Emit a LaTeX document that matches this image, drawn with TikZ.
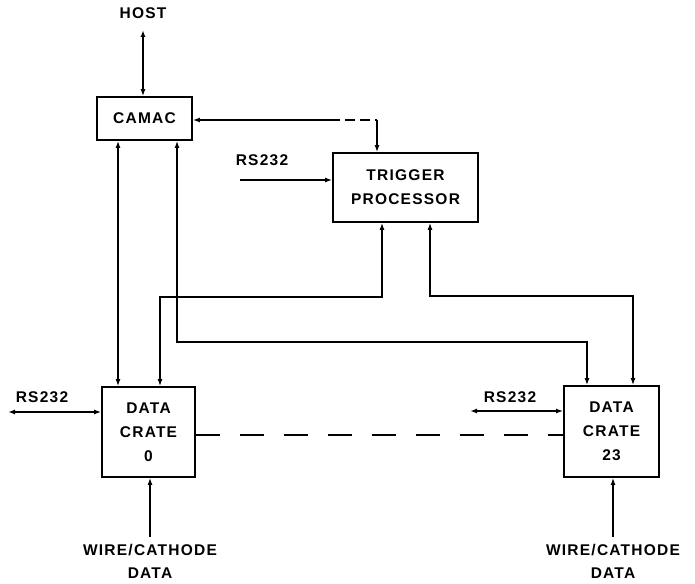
\documentclass[tikz,border=0pt]{standalone}
\usepackage{fontspec}
\setmainfont{Liberation Sans}[LetterSpace=8]
\usetikzlibrary{arrows.meta}
\begin{document}
\begin{tikzpicture}[x=1pt,y=-1pt,
  line width=1.6pt,
  box/.style={draw,line width=1.8pt,rectangle,inner sep=0pt,align=center,font=\bfseries\fontsize{15.5}{24}\selectfont},
  lbl/.style={font=\bfseries\fontsize{15.5}{23}\selectfont,align=center,inner sep=0pt},
  tip/.style={-{Latex[length=7pt,width=5pt]}},
  bitip/.style={{Latex[length=7pt,width=5pt]}-{Latex[length=7pt,width=5pt]}},
  rtip/.style={{Latex[length=7pt,width=5pt]}-},
  ldash/.style={dash pattern=on 24pt off 20pt}]
\useasboundingbox (0,0) rectangle (695,583);
% boxes
\node[box,minimum width=95pt,minimum height=43pt] (camac) at (144.5,118.5) {CAMAC};
\node[box,minimum width=145pt,minimum height=69pt] (trig) at (405.5,187.5) {TRIGGER\\PROCESSOR};
\node[box,minimum width=93pt,minimum height=90pt] (dc0) at (148.5,432) {DATA\\CRATE\\0};
\node[box,minimum width=95pt,minimum height=91pt] (dc23) at (611.5,431.5) {DATA\\CRATE\\23};
% labels
\node[lbl] (host) at (143,13) {HOST};
\node[lbl] (rsA) at (42,397) {RS232};
\node[lbl] (rsB) at (262,160) {RS232};
\node[lbl] (rsC) at (510,397) {RS232};
\node[lbl] (wA) at (150,561) {WIRE/CATHODE\\DATA};
\node[lbl] (wB) at (613,561) {WIRE/CATHODE\\DATA};
% coordinates
\coordinate (hostend) at (143,30);
\coordinate (ctA) at (330,120);
\coordinate (ctB) at (377,120);
\coordinate (c2a) at (177,342);
\coordinate (c2b) at (587,342);
\coordinate (t1a) at (382,297);
\coordinate (t1b) at (160,297);
\coordinate (t2a) at (430,296);
\coordinate (t2b) at (633,296);
\coordinate (rsAend) at (8,412);
\coordinate (rsBend) at (240,180);
\coordinate (rsCend) at (470,411);
\coordinate (wAend) at (150,537);
\coordinate (wBend) at (613,537);
% connectors
\draw[bitip] (hostend) -- (hostend |- camac.north);
\draw[bitip] (camac.south -| 118,0) -- (dc0.north -| 118,0);
\draw[bitip] (camac.south -| c2a) -- (c2a) -- (c2b) -- (c2b |- dc23.north);
\draw[rtip] (camac.east |- ctA) -- (ctA);
\draw[dash pattern=on 10pt off 5pt] (ctA) -- (ctB);
\draw[tip] (ctB) -- (ctB |- trig.north);
\draw[tip] (rsBend) -- (rsBend -| trig.west);
\draw[bitip] (trig.south -| t1a) -- (t1a) -- (t1b) -- (t1b |- dc0.north);
\draw[bitip] (trig.south -| t2a) -- (t2a) -- (t2b) -- (t2b |- dc23.north);
\draw[bitip] (rsAend) -- (rsAend -| dc0.west);
\draw[bitip] (rsCend) -- (rsCend -| dc23.west);
\draw[ldash] (dc0.east |- 0,435) -- (dc23.west |- 0,435);
\draw[rtip] (wAend |- dc0.south) -- (wAend);
\draw[rtip] (wBend |- dc23.south) -- (wBend);
\end{tikzpicture}
\end{document}
